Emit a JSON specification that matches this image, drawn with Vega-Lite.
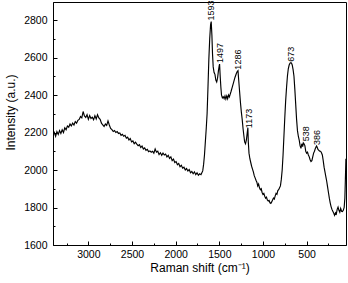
{
  "$schema": "https://vega.github.io/schema/vega-lite/v6.json",
  "width": 293,
  "height": 243,
  "autosize": {"type": "none"},
  "padding": {"left": 53, "top": 2, "right": 2, "bottom": 38},
  "background": "white",
  "config": {
    "view": {"stroke": "black", "strokeWidth": 1},
    "font": "Liberation Sans",
    "axis": {"domainColor": "black", "tickColor": "black", "labelColor": "black", "titleColor": "black", "grid": false, "labelFont": "Liberation Sans", "titleFont": "Liberation Sans", "labelFontSize": 10.5, "titleFontSize": 12, "titleFontWeight": "normal", "labelOverlap": false, "tickWidth": 1}
  },
  "datasets": {
    "spectrum": [
      {"shift": 3405, "intensity": 2185}, {"shift": 3390, "intensity": 2200}, {"shift": 3375, "intensity": 2180}, {"shift": 3360, "intensity": 2205},
      {"shift": 3345, "intensity": 2190}, {"shift": 3330, "intensity": 2210}, {"shift": 3315, "intensity": 2195}, {"shift": 3300, "intensity": 2215},
      {"shift": 3285, "intensity": 2200}, {"shift": 3270, "intensity": 2225}, {"shift": 3255, "intensity": 2215}, {"shift": 3240, "intensity": 2235},
      {"shift": 3225, "intensity": 2228}, {"shift": 3210, "intensity": 2245}, {"shift": 3195, "intensity": 2235}, {"shift": 3180, "intensity": 2250},
      {"shift": 3165, "intensity": 2240}, {"shift": 3150, "intensity": 2258}, {"shift": 3135, "intensity": 2250}, {"shift": 3120, "intensity": 2265},
      {"shift": 3105, "intensity": 2270}, {"shift": 3090, "intensity": 2285}, {"shift": 3075, "intensity": 2278}, {"shift": 3060, "intensity": 2312},
      {"shift": 3045, "intensity": 2288}, {"shift": 3030, "intensity": 2280}, {"shift": 3015, "intensity": 2295}, {"shift": 3000, "intensity": 2270},
      {"shift": 2985, "intensity": 2290}, {"shift": 2970, "intensity": 2275}, {"shift": 2955, "intensity": 2282}, {"shift": 2940, "intensity": 2268},
      {"shift": 2925, "intensity": 2290}, {"shift": 2910, "intensity": 2272}, {"shift": 2895, "intensity": 2295}, {"shift": 2880, "intensity": 2278},
      {"shift": 2865, "intensity": 2270}, {"shift": 2850, "intensity": 2250}, {"shift": 2835, "intensity": 2240}, {"shift": 2820, "intensity": 2232},
      {"shift": 2805, "intensity": 2245}, {"shift": 2790, "intensity": 2238}, {"shift": 2775, "intensity": 2262}, {"shift": 2760, "intensity": 2240},
      {"shift": 2745, "intensity": 2222}, {"shift": 2730, "intensity": 2215}, {"shift": 2715, "intensity": 2205}, {"shift": 2700, "intensity": 2210},
      {"shift": 2685, "intensity": 2200}, {"shift": 2670, "intensity": 2205}, {"shift": 2655, "intensity": 2195}, {"shift": 2640, "intensity": 2198},
      {"shift": 2625, "intensity": 2185}, {"shift": 2610, "intensity": 2190}, {"shift": 2595, "intensity": 2180}, {"shift": 2580, "intensity": 2185},
      {"shift": 2565, "intensity": 2170}, {"shift": 2550, "intensity": 2175}, {"shift": 2535, "intensity": 2160}, {"shift": 2520, "intensity": 2168},
      {"shift": 2505, "intensity": 2150}, {"shift": 2490, "intensity": 2155}, {"shift": 2475, "intensity": 2140}, {"shift": 2460, "intensity": 2148},
      {"shift": 2445, "intensity": 2138}, {"shift": 2430, "intensity": 2130}, {"shift": 2415, "intensity": 2135}, {"shift": 2400, "intensity": 2120},
      {"shift": 2385, "intensity": 2128}, {"shift": 2370, "intensity": 2112}, {"shift": 2355, "intensity": 2118}, {"shift": 2340, "intensity": 2105},
      {"shift": 2325, "intensity": 2110}, {"shift": 2310, "intensity": 2098}, {"shift": 2295, "intensity": 2102}, {"shift": 2280, "intensity": 2095},
      {"shift": 2265, "intensity": 2100}, {"shift": 2250, "intensity": 2090}, {"shift": 2235, "intensity": 2112}, {"shift": 2220, "intensity": 2095},
      {"shift": 2205, "intensity": 2100}, {"shift": 2190, "intensity": 2082}, {"shift": 2175, "intensity": 2092}, {"shift": 2160, "intensity": 2078},
      {"shift": 2145, "intensity": 2090}, {"shift": 2130, "intensity": 2080}, {"shift": 2115, "intensity": 2085}, {"shift": 2100, "intensity": 2070},
      {"shift": 2085, "intensity": 2078}, {"shift": 2070, "intensity": 2062}, {"shift": 2055, "intensity": 2070}, {"shift": 2040, "intensity": 2050},
      {"shift": 2025, "intensity": 2058}, {"shift": 2010, "intensity": 2040}, {"shift": 1995, "intensity": 2045}, {"shift": 1980, "intensity": 2028},
      {"shift": 1965, "intensity": 2035}, {"shift": 1950, "intensity": 2018}, {"shift": 1935, "intensity": 2025}, {"shift": 1920, "intensity": 2010},
      {"shift": 1905, "intensity": 2015}, {"shift": 1890, "intensity": 2000}, {"shift": 1875, "intensity": 2008}, {"shift": 1860, "intensity": 1995},
      {"shift": 1845, "intensity": 2002}, {"shift": 1830, "intensity": 1985}, {"shift": 1815, "intensity": 1992}, {"shift": 1800, "intensity": 1980},
      {"shift": 1785, "intensity": 1990}, {"shift": 1770, "intensity": 1975}, {"shift": 1755, "intensity": 1985}, {"shift": 1740, "intensity": 1972},
      {"shift": 1725, "intensity": 1980}, {"shift": 1710, "intensity": 1975}, {"shift": 1700, "intensity": 1985}, {"shift": 1690, "intensity": 1995},
      {"shift": 1680, "intensity": 2030}, {"shift": 1670, "intensity": 2080}, {"shift": 1660, "intensity": 2150}, {"shift": 1650, "intensity": 2220},
      {"shift": 1640, "intensity": 2300}, {"shift": 1630, "intensity": 2440}, {"shift": 1620, "intensity": 2590}, {"shift": 1610, "intensity": 2700},
      {"shift": 1600, "intensity": 2775}, {"shift": 1593, "intensity": 2792}, {"shift": 1585, "intensity": 2720}, {"shift": 1578, "intensity": 2620},
      {"shift": 1570, "intensity": 2550}, {"shift": 1560, "intensity": 2520}, {"shift": 1550, "intensity": 2510}, {"shift": 1540, "intensity": 2480},
      {"shift": 1530, "intensity": 2470}, {"shift": 1520, "intensity": 2490}, {"shift": 1510, "intensity": 2530}, {"shift": 1500, "intensity": 2560},
      {"shift": 1497, "intensity": 2565}, {"shift": 1490, "intensity": 2500}, {"shift": 1482, "intensity": 2440}, {"shift": 1475, "intensity": 2400},
      {"shift": 1465, "intensity": 2385}, {"shift": 1455, "intensity": 2390}, {"shift": 1445, "intensity": 2380}, {"shift": 1435, "intensity": 2395},
      {"shift": 1425, "intensity": 2378}, {"shift": 1415, "intensity": 2395}, {"shift": 1405, "intensity": 2380}, {"shift": 1395, "intensity": 2400},
      {"shift": 1385, "intensity": 2390}, {"shift": 1375, "intensity": 2405}, {"shift": 1365, "intensity": 2420}, {"shift": 1350, "intensity": 2445},
      {"shift": 1335, "intensity": 2470}, {"shift": 1320, "intensity": 2495}, {"shift": 1305, "intensity": 2515}, {"shift": 1295, "intensity": 2525},
      {"shift": 1286, "intensity": 2530}, {"shift": 1278, "intensity": 2480}, {"shift": 1268, "intensity": 2420}, {"shift": 1258, "intensity": 2360},
      {"shift": 1248, "intensity": 2310}, {"shift": 1238, "intensity": 2270}, {"shift": 1228, "intensity": 2220}, {"shift": 1218, "intensity": 2180},
      {"shift": 1210, "intensity": 2150}, {"shift": 1200, "intensity": 2140}, {"shift": 1190, "intensity": 2160}, {"shift": 1180, "intensity": 2200},
      {"shift": 1173, "intensity": 2225}, {"shift": 1168, "intensity": 2150}, {"shift": 1160, "intensity": 2090}, {"shift": 1150, "intensity": 2060},
      {"shift": 1140, "intensity": 2040}, {"shift": 1130, "intensity": 2020}, {"shift": 1120, "intensity": 2005}, {"shift": 1110, "intensity": 1990},
      {"shift": 1100, "intensity": 1970}, {"shift": 1090, "intensity": 1958}, {"shift": 1080, "intensity": 1945}, {"shift": 1070, "intensity": 1935},
      {"shift": 1060, "intensity": 1915}, {"shift": 1050, "intensity": 1925}, {"shift": 1040, "intensity": 1905}, {"shift": 1030, "intensity": 1895},
      {"shift": 1020, "intensity": 1900}, {"shift": 1010, "intensity": 1880}, {"shift": 1000, "intensity": 1870}, {"shift": 990, "intensity": 1875},
      {"shift": 980, "intensity": 1860}, {"shift": 970, "intensity": 1850}, {"shift": 960, "intensity": 1855}, {"shift": 950, "intensity": 1840},
      {"shift": 940, "intensity": 1835}, {"shift": 930, "intensity": 1838}, {"shift": 920, "intensity": 1825}, {"shift": 910, "intensity": 1822},
      {"shift": 900, "intensity": 1830}, {"shift": 890, "intensity": 1840}, {"shift": 880, "intensity": 1850}, {"shift": 870, "intensity": 1845},
      {"shift": 860, "intensity": 1862}, {"shift": 850, "intensity": 1875}, {"shift": 840, "intensity": 1870}, {"shift": 830, "intensity": 1890},
      {"shift": 820, "intensity": 1895}, {"shift": 810, "intensity": 1905}, {"shift": 800, "intensity": 1915}, {"shift": 790, "intensity": 1950},
      {"shift": 780, "intensity": 2000}, {"shift": 770, "intensity": 2080}, {"shift": 760, "intensity": 2180}, {"shift": 750, "intensity": 2280},
      {"shift": 740, "intensity": 2370}, {"shift": 730, "intensity": 2440}, {"shift": 720, "intensity": 2500}, {"shift": 710, "intensity": 2540},
      {"shift": 700, "intensity": 2560}, {"shift": 690, "intensity": 2570}, {"shift": 680, "intensity": 2572}, {"shift": 673, "intensity": 2570},
      {"shift": 665, "intensity": 2560}, {"shift": 655, "intensity": 2535}, {"shift": 645, "intensity": 2500}, {"shift": 635, "intensity": 2430},
      {"shift": 625, "intensity": 2350}, {"shift": 615, "intensity": 2270}, {"shift": 605, "intensity": 2210}, {"shift": 595, "intensity": 2180},
      {"shift": 585, "intensity": 2160}, {"shift": 575, "intensity": 2130}, {"shift": 565, "intensity": 2115}, {"shift": 555, "intensity": 2140},
      {"shift": 545, "intensity": 2125}, {"shift": 538, "intensity": 2145}, {"shift": 530, "intensity": 2140}, {"shift": 520, "intensity": 2130},
      {"shift": 510, "intensity": 2100}, {"shift": 500, "intensity": 2090}, {"shift": 490, "intensity": 2095}, {"shift": 480, "intensity": 2080},
      {"shift": 470, "intensity": 2070}, {"shift": 460, "intensity": 2055}, {"shift": 450, "intensity": 2045}, {"shift": 440, "intensity": 2050},
      {"shift": 430, "intensity": 2070}, {"shift": 420, "intensity": 2090}, {"shift": 410, "intensity": 2100}, {"shift": 400, "intensity": 2115},
      {"shift": 390, "intensity": 2125}, {"shift": 386, "intensity": 2128}, {"shift": 378, "intensity": 2120}, {"shift": 370, "intensity": 2110},
      {"shift": 360, "intensity": 2105}, {"shift": 350, "intensity": 2100}, {"shift": 340, "intensity": 2100}, {"shift": 330, "intensity": 2092},
      {"shift": 320, "intensity": 2080}, {"shift": 310, "intensity": 2050}, {"shift": 300, "intensity": 2015}, {"shift": 290, "intensity": 1990},
      {"shift": 280, "intensity": 1965}, {"shift": 270, "intensity": 1940}, {"shift": 260, "intensity": 1910}, {"shift": 250, "intensity": 1880},
      {"shift": 240, "intensity": 1850}, {"shift": 230, "intensity": 1825}, {"shift": 220, "intensity": 1805}, {"shift": 210, "intensity": 1790},
      {"shift": 200, "intensity": 1780}, {"shift": 190, "intensity": 1770}, {"shift": 180, "intensity": 1758}, {"shift": 170, "intensity": 1772},
      {"shift": 160, "intensity": 1765}, {"shift": 150, "intensity": 1790}, {"shift": 140, "intensity": 1802}, {"shift": 130, "intensity": 1785},
      {"shift": 120, "intensity": 1775}, {"shift": 110, "intensity": 1795}, {"shift": 100, "intensity": 1780}, {"shift": 90, "intensity": 1778},
      {"shift": 80, "intensity": 1785}, {"shift": 70, "intensity": 1800}, {"shift": 62, "intensity": 1850}, {"shift": 56, "intensity": 1950},
      {"shift": 50, "intensity": 2060}
    ],
    "peaks": [
      {"label": "1593", "shift": 1593, "intensity": 2792},
      {"label": "1497", "shift": 1497, "intensity": 2565},
      {"label": "1286", "shift": 1286, "intensity": 2530},
      {"label": "1173", "shift": 1160, "intensity": 2218},
      {"label": "673", "shift": 680, "intensity": 2572},
      {"label": "538", "shift": 510, "intensity": 2148},
      {"label": "386", "shift": 381, "intensity": 2128}
    ]
  },
  "resolve": {"axis": {"x": "independent", "y": "independent"}},
  "layer": [
    {
      "data": {"name": "spectrum"},
      "mark": {"type": "line", "color": "black", "strokeWidth": 1.15, "clip": true},
      "encoding": {
        "x": {
          "field": "shift", "type": "quantitative",
          "scale": {"domain": [49, 3405], "reverse": true, "nice": false, "zero": false},
          "axis": {
            "orient": "bottom",
            "title": "Raman shift (cm⁻¹)",
            "values": [3000, 2500, 2000, 1500, 1000, 500],
            "format": "d",
            "ticks": false,
            "labelPadding": 4,
            "titlePadding": 3
          }
        },
        "y": {
          "field": "intensity", "type": "quantitative",
          "scale": {"domain": [1600, 2896], "nice": false, "zero": false},
          "axis": {
            "orient": "left",
            "title": "Intensity (a.u.)",
            "values": [1600, 1800, 2000, 2200, 2400, 2600, 2800],
            "format": "d",
            "ticks": false,
            "labelPadding": 6,
            "titlePadding": 6,
            "titleY": 110
          }
        }
      }
    },
    {
      "data": {"name": "peaks"},
      "mark": {"type": "text", "angle": 270, "align": "left", "baseline": "middle", "dx": 1, "fontSize": 9, "color": "black", "font": "Liberation Sans"},
      "encoding": {
        "x": {
          "field": "shift", "type": "quantitative",
          "axis": {"orient": "bottom", "values": [3000, 2500, 2000, 1500, 1000, 500], "labels": false, "domain": false, "title": null, "offset": -4, "tickSize": 4}
        },
        "y": {
          "field": "intensity", "type": "quantitative",
          "axis": {"orient": "left", "values": [1800, 2000, 2200, 2400, 2600, 2800], "labels": false, "domain": false, "title": null, "offset": -4, "tickSize": 4}
        },
        "text": {"field": "label"}
      }
    },
    {
      "data": {"name": "peaks"},
      "mark": {"type": "point", "opacity": 0},
      "encoding": {
        "x": {
          "field": "shift", "type": "quantitative",
          "axis": {"orient": "bottom", "values": [3250, 2750, 2250, 1750, 1250, 750, 250], "labels": false, "domain": false, "title": null, "offset": -2, "tickSize": 2}
        },
        "y": {
          "field": "intensity", "type": "quantitative",
          "axis": {"orient": "left", "values": [1700, 1900, 2100, 2300, 2500, 2700], "labels": false, "domain": false, "title": null, "offset": -2, "tickSize": 2}
        }
      }
    }
  ]
}
